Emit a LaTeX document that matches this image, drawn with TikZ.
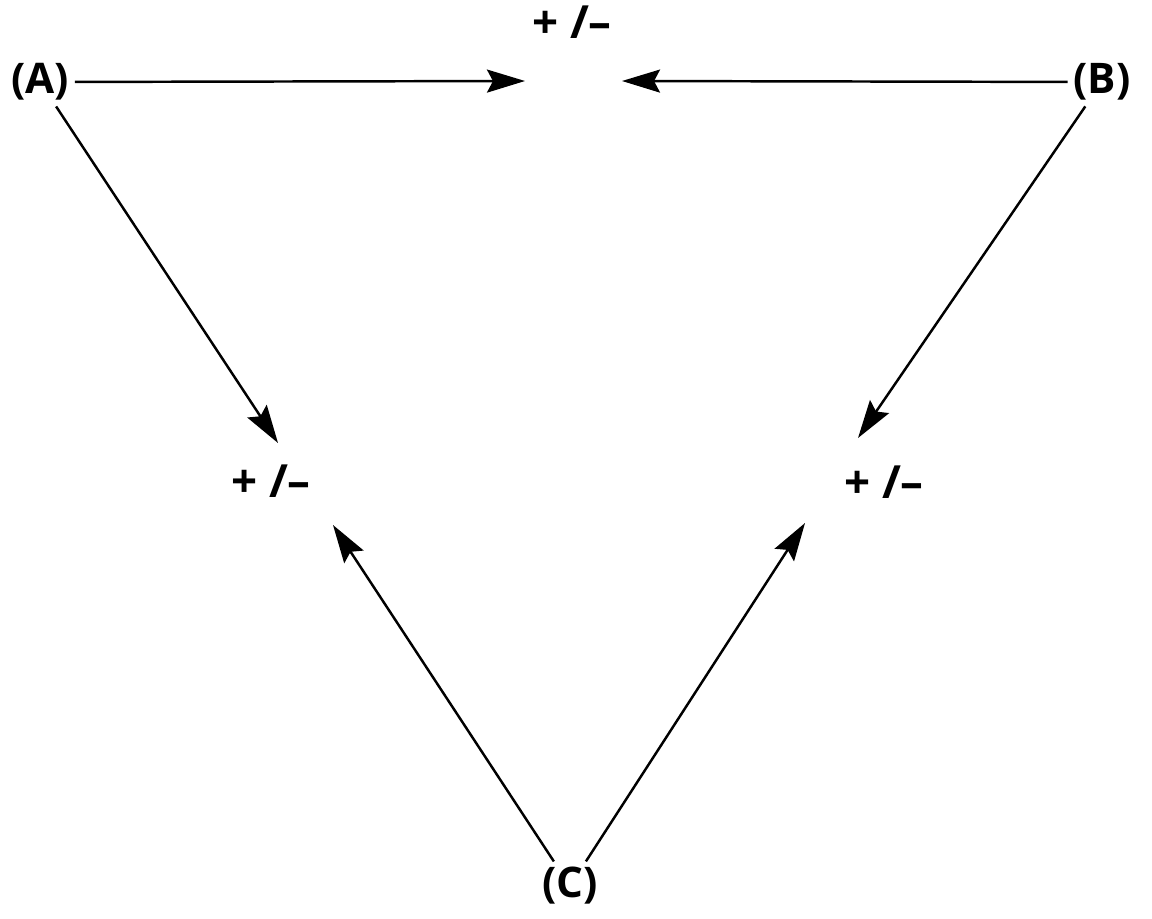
\documentclass[tikz,border=0pt]{standalone}
\usepackage{fontspec}
\setmainfont{Open Sans}
\usetikzlibrary{arrows.meta, positioning}

\begin{document}
\begin{tikzpicture}[x=0.01cm, y=-0.01cm,
    corner/.style={inner sep=1.5pt, font=\fontsize{12}{14}\selectfont\bfseries},
    sign/.style={inner sep=1pt, font=\fontsize{13}{15}\selectfont\bfseries},
    arr/.style={line width=0.7pt, -{Stealth[length=3.8mm, width=2.3mm, inset=0.6mm]}}]
  \useasboundingbox (0,0) rectangle (1152,918);

  % Corners of the triangle
  \node[corner] (A) at (40,82) {(A)};
  \node[corner] (B) at (1102,82) {(B)};
  \node[corner] (C) at (570,886) {(C)};

  % Interaction signs
  \node[sign] (pmTop) at (572,22) {+ /–};
  \node[sign] (pmLeft) at (271,481) {+ /–};
  \node[sign] (pmRight) at (884,482) {+ /–};

  % Arrow tips near the signs
  \coordinate (tipAT) at (525,81);
  \coordinate (tipBT) at (622,81);
  \coordinate (tipAL) at (278,443);
  \coordinate (tipCL) at (333,525);
  \coordinate (tipBR) at (858,438);
  \coordinate (tipCR) at (805,523);

  % Arrows
  \draw[arr] (A) -- (tipAT);
  \draw[arr] (B) -- (tipBT);
  \draw[arr] (A) -- (tipAL);
  \draw[arr] (C) -- (tipCL);
  \draw[arr] (B) -- (tipBR);
  \draw[arr] (C) -- (tipCR);
\end{tikzpicture}
\end{document}
